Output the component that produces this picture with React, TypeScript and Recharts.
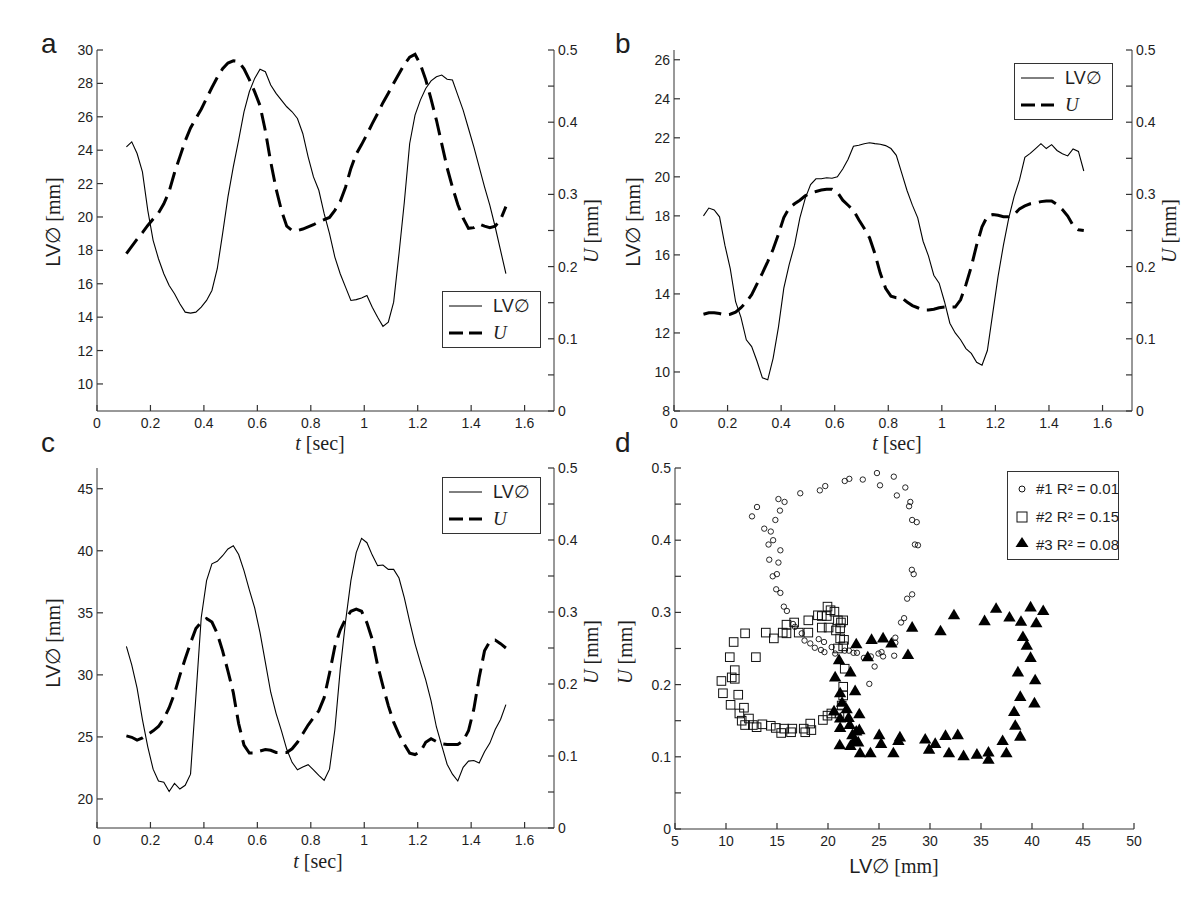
import React from 'react';
import { LineChart, Line, XAxis, YAxis, ScatterChart, Scatter, Legend } from 'recharts';

// ---------- data ----------
const time = [
  0.11, 0.13, 0.15, 0.17, 0.19, 0.21, 0.23, 0.25, 0.27, 0.29,
  0.31, 0.33, 0.35, 0.37, 0.39, 0.41, 0.43, 0.45, 0.47, 0.49,
  0.51, 0.53, 0.55, 0.57, 0.59, 0.61, 0.63, 0.65, 0.67, 0.69,
  0.71, 0.73, 0.75, 0.77, 0.79, 0.81, 0.83, 0.85, 0.87, 0.89,
  0.91, 0.93, 0.95, 0.97, 0.99, 1.01, 1.03, 1.05, 1.07, 1.09,
  1.11, 1.13, 1.15, 1.17, 1.19, 1.21, 1.23, 1.25, 1.27, 1.29,
  1.31, 1.33, 1.35, 1.37, 1.39, 1.41, 1.43, 1.45, 1.47, 1.49,
  1.51, 1.53,
];

const lvA = [
  24.2, 24.5, 23.8, 22.7, 20.4, 18.6, 17.5, 16.6, 15.9, 15.4,
  14.8, 14.3, 14.24, 14.3, 14.6, 15.0, 15.6, 16.9, 19.0, 21.2,
  23.0, 24.6, 26.3, 27.5, 28.3, 28.85, 28.7, 27.9, 27.4, 27.0,
  26.6, 26.3, 25.9, 25.0, 23.6, 22.4, 21.6, 20.2, 19.0, 17.6,
  16.6, 15.8, 15.0, 15.05, 15.15, 15.3, 14.6, 14.0, 13.45, 13.7,
  14.9, 17.8, 20.9, 24.4, 26.1, 27.0, 27.7, 28.15, 28.4, 28.5,
  28.25, 28.2, 27.3, 26.4, 25.3, 24.2, 23.0, 21.8, 20.7, 19.4,
  18.0, 16.6,
];
const uA = [
  0.218, 0.228, 0.238, 0.247, 0.257, 0.266, 0.274, 0.287, 0.304, 0.330,
  0.352, 0.374, 0.392, 0.405, 0.418, 0.433, 0.448, 0.462, 0.474, 0.482,
  0.485, 0.484, 0.474, 0.459, 0.442, 0.423, 0.388, 0.345, 0.308, 0.278,
  0.256, 0.250, 0.250, 0.252, 0.255, 0.258, 0.262, 0.265, 0.268, 0.278,
  0.290, 0.310, 0.336, 0.356, 0.369, 0.383, 0.398, 0.412, 0.427, 0.440,
  0.454, 0.467, 0.480, 0.490, 0.494, 0.480, 0.459, 0.432, 0.403, 0.370,
  0.337, 0.310, 0.286, 0.267, 0.253, 0.254, 0.259, 0.256, 0.254, 0.256,
  0.265, 0.283,
];

const lvB = [
  18.0, 18.4, 18.3, 17.95, 16.5, 15.3, 13.6, 12.8, 11.65, 11.3,
  10.55, 9.7, 9.6, 10.7, 12.3, 14.3, 15.5, 16.5, 17.9, 18.9,
  19.6, 19.9, 19.9, 19.95, 19.93, 20.0, 20.4, 20.9, 21.57, 21.62,
  21.7, 21.75, 21.7, 21.67, 21.6, 21.45, 21.1, 20.2, 19.3, 18.55,
  17.9, 16.7, 15.95, 14.96, 14.55, 13.6, 12.5, 12.0, 11.65, 11.2,
  10.95, 10.5, 10.35, 11.1, 13.0, 14.9, 16.5, 17.9, 19.0, 19.84,
  21.0, 21.2, 21.45, 21.7, 21.45, 21.65, 21.35, 21.18, 21.07, 21.43,
  21.3, 20.3,
];
const uB = [
  0.134, 0.136, 0.136, 0.135, 0.133, 0.134, 0.137, 0.143, 0.151, 0.161,
  0.176, 0.191, 0.207, 0.224, 0.245, 0.268, 0.281, 0.287, 0.292, 0.298,
  0.302, 0.304, 0.306, 0.307, 0.307, 0.303, 0.292, 0.285, 0.278, 0.265,
  0.253, 0.240, 0.218, 0.191, 0.170, 0.159, 0.157, 0.157, 0.151, 0.146,
  0.143, 0.140, 0.140, 0.141, 0.143, 0.144, 0.144, 0.144, 0.154, 0.175,
  0.200, 0.230, 0.255, 0.270, 0.272, 0.271, 0.269, 0.269, 0.272, 0.280,
  0.284, 0.287, 0.288, 0.290, 0.291, 0.291, 0.286, 0.279, 0.270, 0.257,
  0.251, 0.250,
];

const lvC = [
  32.3, 30.8, 28.93, 26.4, 24.2, 22.4, 21.45, 21.34, 20.6, 21.25,
  20.8, 21.1, 22.0, 28.26, 34.6, 37.6, 38.95, 39.15, 39.6, 40.15,
  40.4, 39.7, 38.4, 36.85, 35.4, 33.4, 31.0, 28.6, 26.9, 25.5,
  24.0, 22.95, 22.35, 22.57, 22.76, 22.35, 21.9, 21.5, 22.4, 25.58,
  30.4, 34.3, 37.6, 39.85, 41.0, 40.65, 39.65, 38.8, 38.85, 38.5,
  38.5, 37.8, 36.2, 34.3, 32.5, 31.0, 29.6, 27.9, 25.8, 24.3,
  22.8, 22.0, 21.45, 22.55, 23.05, 23.1, 22.9, 23.8, 24.5, 25.6,
  26.4, 27.6,
];
const uC = [
  0.128, 0.126, 0.122, 0.125, 0.130, 0.135, 0.141, 0.152, 0.167, 0.187,
  0.212, 0.235, 0.257, 0.277, 0.286, 0.291, 0.286, 0.270, 0.246, 0.218,
  0.188, 0.145, 0.115, 0.104, 0.104, 0.107, 0.109, 0.108, 0.105, 0.105,
  0.105, 0.110, 0.119, 0.131, 0.143, 0.153, 0.163, 0.181, 0.215, 0.252,
  0.275, 0.290, 0.301, 0.304, 0.301, 0.285, 0.262, 0.226, 0.197, 0.170,
  0.147, 0.130, 0.116, 0.104, 0.102, 0.106, 0.119, 0.124, 0.120, 0.117,
  0.116, 0.116, 0.116, 0.121, 0.135, 0.165, 0.209, 0.246, 0.259, 0.261,
  0.256, 0.250,
];

// scatter (panel d)
const s1LV = [
  12.55, 13.04, 15.14, 15.74, 15.29, 14.84, 13.75, 14.39, 14.62, 14.17,
  15.33, 14.24, 15.14, 14.58, 14.99, 14.92, 15.33, 15.67, 15.97, 17.28,
  19.2, 19.73, 21.64, 22.09, 23.41, 24.8, 25.1, 26.45, 26.75, 27.58,
  28.07, 27.95, 28.25, 28.7, 28.52, 28.82, 28.22, 28.4, 28.25, 27.76,
  27.46, 27.16, 26.6, 26.6, 26.49, 25.4, 25.25, 24.95, 24.57, 24.05,
  24.2, 23.52, 22.84, 22.5, 22.05, 21.64, 20.7, 20.36, 19.65, 19.31,
  19.09, 18.71, 18.26, 17.7, 17.43, 16.76, 16.57, 19.61,
];
const s1U = [
  0.433, 0.446, 0.457, 0.453, 0.441, 0.428, 0.416, 0.412, 0.400, 0.394,
  0.386, 0.373, 0.369, 0.350, 0.353, 0.332, 0.327, 0.308, 0.302, 0.465,
  0.469, 0.475, 0.482, 0.485, 0.484, 0.493, 0.476, 0.488, 0.462, 0.473,
  0.453, 0.447, 0.428, 0.425, 0.394, 0.393, 0.359, 0.353, 0.325, 0.319,
  0.292, 0.286, 0.265, 0.258, 0.240, 0.239, 0.245, 0.243, 0.225, 0.201,
  0.239, 0.237, 0.244, 0.244, 0.247, 0.247, 0.243, 0.252, 0.245, 0.248,
  0.263, 0.251, 0.257, 0.261, 0.271, 0.280, 0.284, 0.259,
];

const s2LV = [
  9.55, 9.7, 10.45, 10.56, 10.86, 10.86, 11.2, 11.31, 11.76, 11.54,
  12.25, 11.87, 12.63, 13.57, 13.0, 14.39, 14.88, 15.41, 15.71, 16.38,
  16.5, 17.77, 17.62, 18.37, 18.26, 19.5, 19.95, 20.33, 21.12, 21.34,
  21.49, 21.49, 21.64, 21.57, 21.49, 21.19, 21.27, 20.97, 21.49, 20.63,
  20.25, 19.95, 19.88, 19.39, 19.01, 19.39, 20.78, 18.07, 15.93, 15.56,
  15.93, 16.68, 17.13, 18.07, 14.69, 13.9, 12.93, 11.87, 10.75, 10.37,
  20.06, 20.97, 21.19,
];
const s2U = [
  0.205, 0.188, 0.172, 0.210, 0.220, 0.208, 0.186, 0.160, 0.168, 0.150,
  0.153, 0.144, 0.144, 0.145, 0.141, 0.143, 0.140, 0.133, 0.139, 0.134,
  0.139, 0.134, 0.139, 0.137, 0.146, 0.151, 0.157, 0.160, 0.160, 0.171,
  0.185, 0.197, 0.222, 0.262, 0.253, 0.264, 0.286, 0.289, 0.289, 0.301,
  0.303, 0.308, 0.295, 0.295, 0.296, 0.279, 0.275, 0.289, 0.283, 0.272,
  0.271, 0.286, 0.272, 0.272, 0.264, 0.272, 0.238, 0.271, 0.259, 0.238,
  0.279, 0.250, 0.278,
];

const s3LV = [
  22.77, 24.27, 25.4, 26.22, 23.9, 27.84, 28.25, 31.03, 32.35, 35.35,
  36.48, 37.79, 38.92, 39.86, 40.42, 41.1, 39.11, 39.49, 39.86, 38.62,
  40.31, 38.85, 40.24, 38.25, 38.36, 38.85, 37.12, 37.49, 35.73, 35.73,
  34.6, 33.29, 31.86, 31.52, 32.72, 30.51, 29.91, 29.53, 27.05, 26.9,
  26.41, 25.02, 25.21, 24.16, 23.14, 22.96, 23.07, 22.58, 22.39, 22.2,
  21.15, 21.19, 21.38, 21.19, 20.59, 23.07, 22.66, 22.2, 20.7, 21.08,
  21.19, 22.02, 21.83, 22.77, 22.13,
];
const s3U = [
  0.257, 0.263, 0.265, 0.258, 0.239, 0.242, 0.280, 0.275, 0.297, 0.289,
  0.306, 0.294, 0.288, 0.308, 0.286, 0.303, 0.267, 0.255, 0.238, 0.218,
  0.207, 0.184, 0.175, 0.163, 0.144, 0.129, 0.123, 0.106, 0.107, 0.097,
  0.104, 0.102, 0.106, 0.130, 0.131, 0.119, 0.111, 0.125, 0.128, 0.123,
  0.106, 0.131, 0.119, 0.106, 0.106, 0.121, 0.138, 0.123, 0.131, 0.116,
  0.117, 0.141, 0.176, 0.189, 0.164, 0.160, 0.192, 0.218, 0.211, 0.235,
  0.154, 0.155, 0.167, 0.136, 0.145,
];

const timeTicks = [0, 0.2, 0.4, 0.6, 0.8, 1, 1.2, 1.4, 1.6];
const uTicks = [0, 0.05, 0.1, 0.15, 0.2, 0.25, 0.3, 0.35, 0.4, 0.45, 0.5];
const lvTicksA = [10, 12, 14, 16, 18, 20, 22, 24, 26, 28, 30];
const lvTicksB = [8, 10, 12, 14, 16, 18, 20, 22, 24, 26];
const lvTicksC = [20, 25, 30, 35, 40, 45];
const lvTicksD = [5, 10, 15, 20, 25, 30, 35, 40, 45, 50];
const legendNames = ['#1 R² = 0.01', '#2 R² = 0.15', '#3 R² = 0.08'];

// ---------- helpers ----------
const SANS = '"Liberation Sans", Arial, Helvetica, sans-serif';
const SERIF = '"Liberation Serif", "Times New Roman", Times, serif';
const AX = '#333';
const TXT = '#1e1e1e';
const TICK_LEN = 6;
const M_SIDE = 4;
const M_BOTTOM = 7;

const fmtNum = (v: number) => String(v);
const fmtT = (v: number) => String(Math.round(v * 10) / 10);
const fmtU = (v: number) =>
  Math.abs(v * 10 - Math.round(v * 10)) < 1e-6 ? String(Math.round(v * 10) / 10) : '';

// inward tick marks + labels
const makeTick =
  (side: 'left' | 'right' | 'bottom' | 'top', fmt: (v: number) => string, showLabel = true) =>
  (props: any) => {
    const { x, y, payload } = props;
    const label = showLabel ? fmt(payload.value) : '';
    const textProps = { fill: TXT, fontSize: 14, fontFamily: SANS };
    const lineProps = { stroke: AX, strokeWidth: 1.2 };
    if (side === 'left') {
      const ax = x + M_SIDE;
      return (
        <g>
          <line x1={ax} x2={ax + TICK_LEN} y1={y} y2={y} {...lineProps} />
          {label && (
            <text x={x} y={y} dy="0.36em" textAnchor="end" {...textProps}>
              {label}
            </text>
          )}
        </g>
      );
    }
    if (side === 'right') {
      const ax = x - M_SIDE;
      return (
        <g>
          <line x1={ax} x2={ax - TICK_LEN} y1={y} y2={y} {...lineProps} />
          {label && (
            <text x={x} y={y} dy="0.36em" textAnchor="start" {...textProps}>
              {label}
            </text>
          )}
        </g>
      );
    }
    if (side === 'bottom') {
      const ay = y - M_BOTTOM;
      return (
        <g>
          <line x1={x} x2={x} y1={ay} y2={ay - TICK_LEN} {...lineProps} />
          {label && (
            <text x={x} y={y} dy="0.71em" textAnchor="middle" {...textProps}>
              {label}
            </text>
          )}
        </g>
      );
    }
    return (
      <g>
        <line x1={x} x2={x} y1={y} y2={y + TICK_LEN} {...lineProps} />
      </g>
    );
  };

const tickLeftNum = makeTick('left', fmtNum);
const tickRightU = makeTick('right', fmtU);
const tickLeftU = makeTick('left', fmtU);
const tickBottomT = makeTick('bottom', fmtT);
const tickBottomNum = makeTick('bottom', fmtNum);
const tickTop = makeTick('top', fmtT, false);

const buildRows = (lv: number[], u: number[]) =>
  time.map((t, i) => ({ t, lv: lv[i], u: u[i] }));
const buildPts = (xs: number[], ys: number[]) => xs.map((x, i) => ({ x, y: ys[i] }));

const dataA = buildRows(lvA, uA);
const dataB = buildRows(lvB, uB);
const dataC = buildRows(lvC, uC);
const pts1 = buildPts(s1LV, s1U);
const pts2 = buildPts(s2LV, s2U);
const pts3 = buildPts(s3LV, s3U);

const LineLegendBox = (props: any) => {
  const payload = props.payload || [];
  return (
    <svg width={100} height={58} style={{ display: 'block' }}>
      <rect x={0.5} y={0.5} width={98} height={56} fill="#fff" stroke="#333" strokeWidth={1} />
      {payload.map((e: any, i: number) => {
        const y = 15 + i * 27;
        const dashed = e.dataKey === 'u';
        return (
          <g key={i}>
            <line
              x1={7}
              x2={40}
              y1={y}
              y2={y}
              stroke="#000"
              strokeWidth={dashed ? 3 : 1}
              strokeDasharray={dashed ? '14 6' : undefined}
            />
            {dashed ? (
              <text x={51} y={y + 6} fontFamily={SERIF} fontStyle="italic" fontSize={19} fill={TXT}>
                U
              </text>
            ) : (
              <text x={51} y={y + 6} fontFamily={SANS} fontSize={18} fill={TXT}>
                LV∅
              </text>
            )}
          </g>
        );
      })}
    </svg>
  );
};

const ScatterLegendBox = () => (
  <svg width={113} height={90} style={{ display: 'block' }}>
    <rect x={0.5} y={0.5} width={111} height={88} fill="#fff" stroke="#333" strokeWidth={1} />
    <circle cx={15} cy={18} r={3} fill="none" stroke="#111" strokeWidth={1} />
    <rect x={10} y={41} width={10} height={10} fill="none" stroke="#111" strokeWidth={1} />
    <path d="M15,66 L21.5,76 L8.5,76 Z" fill="#000" />
    {legendNames.map((n, i) => (
      <text key={i} x={29} y={23 + i * 28} fontFamily={SANS} fontSize={15} fill={TXT}>
        {n}
      </text>
    ))}
  </svg>
);

type PanelProps = {
  left: number;
  top: number;
  height: number;
  margin: { top: number; right: number; bottom: number; left: number };
  data: { t: number; lv: number; u: number }[];
  lvDomain: [number, number];
  lvTicks: number[];
  legendLeft: number;
  legendTop: number;
};

const TimePanel = (p: PanelProps) => (
  <div style={{ position: 'absolute', left: p.left, top: p.top }}>
    <LineChart width={600} height={p.height} data={p.data} margin={p.margin}>
      <XAxis
        xAxisId="bottom"
        dataKey="t"
        type="number"
        domain={[0, 1.71]}
        allowDataOverflow
        ticks={timeTicks}
        interval={0}
        height={30}
        tickSize={0}
        tickMargin={M_BOTTOM}
        tickLine={false}
        stroke={AX}
        tick={tickBottomT}
      />
      <XAxis
        xAxisId="top"
        orientation="top"
        dataKey="t"
        type="number"
        domain={[0, 1.71]}
        allowDataOverflow
        ticks={timeTicks}
        interval={0}
        height={0}
        tickSize={0}
        tickMargin={0}
        tickLine={false}
        stroke={AX}
        tick={tickTop}
      />
      <YAxis
        yAxisId="lv"
        type="number"
        domain={p.lvDomain}
        allowDataOverflow
        ticks={p.lvTicks}
        interval={0}
        width={40}
        tickSize={0}
        tickMargin={M_SIDE}
        tickLine={false}
        stroke={AX}
        tick={tickLeftNum}
      />
      <YAxis
        yAxisId="u"
        orientation="right"
        type="number"
        domain={[0, 0.5]}
        allowDataOverflow
        ticks={uTicks}
        interval={0}
        width={40}
        tickSize={0}
        tickMargin={M_SIDE}
        tickLine={false}
        stroke={AX}
        tick={tickRightU}
      />
      <Line
        xAxisId="bottom"
        yAxisId="lv"
        dataKey="lv"
        name="LV∅"
        type="linear"
        stroke="#000"
        strokeWidth={1.1}
        dot={false}
        isAnimationActive={false}
      />
      <Line
        xAxisId="bottom"
        yAxisId="u"
        dataKey="u"
        name="U"
        type="linear"
        stroke="#000"
        strokeWidth={3}
        strokeDasharray="18 8"
        dot={false}
        isAnimationActive={false}
      />
      <Legend
        layout="vertical"
        align="center"
        verticalAlign="middle"
        wrapperStyle={{ left: p.legendLeft, top: p.legendTop, width: 100, height: 58 }}
        content={(props: any) => <LineLegendBox {...props} />}
      />
    </LineChart>
  </div>
);

const OpenCircle = (p: any) => (
  <circle cx={p.cx} cy={p.cy} r={2.7} fill="none" stroke="#111" strokeWidth={0.9} />
);
const OpenSquare = (p: any) => (
  <rect x={p.cx - 4.3} y={p.cy - 4.3} width={8.6} height={8.6} fill="none" stroke="#111" strokeWidth={1} />
);
const FilledTriangle = (p: any) => (
  <path d={`M${p.cx},${p.cy - 5.8} L${p.cx + 6.2},${p.cy + 4.8} L${p.cx - 6.2},${p.cy + 4.8} Z`} fill="#000" />
);

const ScatterPanel = () => (
  <div style={{ position: 'absolute', left: 600, top: 430 }}>
    <ScatterChart width={600} height={489} margin={{ top: 38, right: 66, bottom: 60, left: 35 }}>
      <XAxis
        dataKey="x"
        type="number"
        domain={[5, 50]}
        allowDataOverflow
        ticks={lvTicksD}
        interval={0}
        height={30}
        tickSize={0}
        tickMargin={M_BOTTOM}
        tickLine={false}
        stroke={AX}
        tick={tickBottomNum}
      />
      <YAxis
        dataKey="y"
        type="number"
        domain={[0, 0.5]}
        allowDataOverflow
        ticks={uTicks}
        interval={0}
        width={40}
        tickSize={0}
        tickMargin={M_SIDE}
        tickLine={false}
        stroke={AX}
        tick={tickLeftU}
      />
      <Scatter name={legendNames[0]} data={pts1} shape={OpenCircle} isAnimationActive={false} />
      <Scatter name={legendNames[1]} data={pts2} shape={OpenSquare} isAnimationActive={false} />
      <Scatter name={legendNames[2]} data={pts3} shape={FilledTriangle} isAnimationActive={false} />
      <Legend
        layout="vertical"
        align="center"
        verticalAlign="middle"
        wrapperStyle={{ left: 407, top: 41, width: 113, height: 90 }}
        content={() => <ScatterLegendBox />}
      />
    </ScatterChart>
  </div>
);

const LvTitle = ({ x, y, rotate }: { x: number; y: number; rotate: boolean }) => (
  <text
    x={x}
    y={y}
    textAnchor="middle"
    dominantBaseline="central"
    transform={rotate ? `rotate(-90 ${x} ${y})` : undefined}
    fill={TXT}
    fontSize={20}
  >
    <tspan fontFamily={SANS}>LV∅</tspan>
    <tspan fontFamily={SERIF}> [mm]</tspan>
  </text>
);

const UTitle = ({ x, y }: { x: number; y: number }) => (
  <text
    x={x}
    y={y}
    textAnchor="middle"
    dominantBaseline="central"
    transform={`rotate(-90 ${x} ${y})`}
    fill={TXT}
    fontSize={20}
    fontFamily={SERIF}
  >
    <tspan fontStyle="italic">U</tspan>
    <tspan> [mm]</tspan>
  </text>
);

const TTitle = ({ x, y }: { x: number; y: number }) => (
  <text x={x} y={y} textAnchor="middle" fill={TXT} fontSize={20} fontFamily={SERIF}>
    <tspan fontStyle="italic">t</tspan>
    <tspan> [sec]</tspan>
  </text>
);

export default function App() {
  return (
    <div style={{ position: 'absolute', left: 0, top: 0, width: 1200, height: 919, background: '#fff' }}>
      <TimePanel
        left={0}
        top={0}
        height={460}
        margin={{ top: 50, right: 6, bottom: 19, left: 57 }}
        data={dataA}
        lvDomain={[8.38, 30]}
        lvTicks={lvTicksA}
        legendLeft={442}
        legendTop={291}
      />
      <TimePanel
        left={600}
        top={0}
        height={460}
        margin={{ top: 50, right: 28, bottom: 19, left: 34 }}
        data={dataB}
        lvDomain={[8, 26.5]}
        lvTicks={lvTicksB}
        legendLeft={414}
        legendTop={63}
      />
      <TimePanel
        left={0}
        top={430}
        height={489}
        margin={{ top: 38, right: 6, bottom: 61, left: 57 }}
        data={dataC}
        lvDomain={[17.66, 46.67]}
        lvTicks={lvTicksC}
        legendLeft={442}
        legendTop={47}
      />
      <ScatterPanel />
      <svg
        width={1200}
        height={919}
        style={{ position: 'absolute', left: 0, top: 0, pointerEvents: 'none' }}
      >
        <text x={41} y={53} fontFamily={SANS} fontSize={28} fill={TXT}>a</text>
        <text x={615} y={53} fontFamily={SANS} fontSize={28} fill={TXT}>b</text>
        <text x={41} y={452} fontFamily={SANS} fontSize={28} fill={TXT}>c</text>
        <text x={615} y={452} fontFamily={SANS} fontSize={28} fill={TXT}>d</text>

        <LvTitle x={53} y={222} rotate />
        <UTitle x={591} y={231} />
        <TTitle x={320} y={450} />

        <LvTitle x={633} y={222} rotate />
        <UTitle x={1169} y={231} />
        <TTitle x={897} y={450} />

        <LvTitle x={53} y={643} rotate />
        <UTitle x={591} y={652} />
        <TTitle x={318} y={868} />

        <UTitle x={625} y={652} />
        <LvTitle x={894} y={866} rotate={false} />
      </svg>
    </div>
  );
}
